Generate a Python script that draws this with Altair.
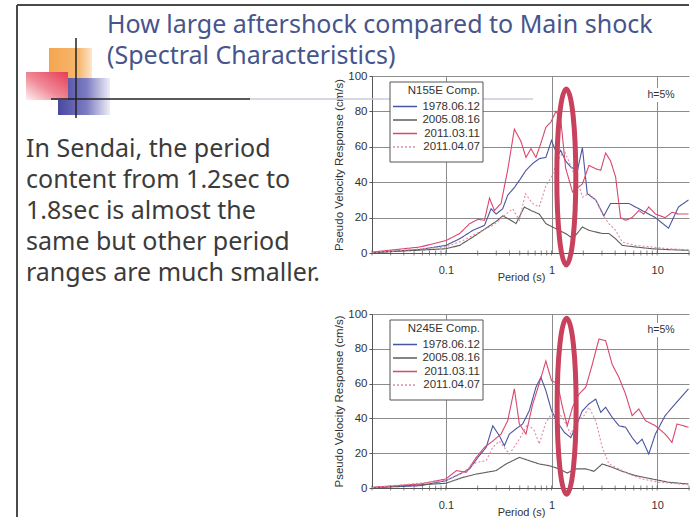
import altair as alt
import pandas as pd

# ---- events and styling -------------------------------------------------
EVENTS = ["1978.06.12", "2005.08.16", "2011.03.11", "2011.04.07"]
COLORS = ["#4a55a0", "#5e5e58", "#d9476c", "#e389a8"]
DASHES = [[1, 0], [1, 0], [1, 0], [2, 2]]

# ---- N155E component: pseudo velocity response (cm/s) vs period (s) ----
N155E_1978_T = [0.02, 0.057, 0.1, 0.135, 0.18, 0.232, 0.268, 0.299, 0.345, 0.385,
                0.445, 0.496, 0.573, 0.662, 0.765, 0.884, 1.0, 1.14, 1.22, 1.36,
                1.52, 1.76, 1.96, 2.18, 2.62, 3.13, 3.62, 4.34, 5.39, 6.70,
                8.32, 9.61, 12.8, 15.9, 19.8]
N155E_1978_V = [0.2, 2.0, 4.3, 8.0, 12.8, 15.6, 25, 22, 25, 32.6,
                37, 41, 46.7, 50.5, 53.3, 54, 63.6, 55, 58, 52,
                48.6, 46.7, 59.5, 33.5, 30, 21, 28, 28, 28, 25,
                22, 20, 14, 26, 30]
N155E_2005_T = [0.02, 0.1, 0.135, 0.18, 0.224, 0.278, 0.31, 0.345, 0.399, 0.461,
                0.553, 0.639, 0.765, 0.884, 1.02, 1.18, 1.36, 1.52, 1.69, 1.96,
                2.26, 2.62, 3.02, 3.49, 4.04, 4.67, 6.23, 8.94, 12.8, 19.8]
N155E_2005_V = [0.2, 2.4, 4.3, 9, 12.8, 16.6, 18.5, 21, 19, 16.6,
                26, 24, 22, 16.6, 14.7, 12.8, 11, 9, 10, 14.7,
                12.8, 11.9, 11, 11, 8, 4.3, 3.4, 2.4, 1.9, 1.5]
N155E_0311_T = [0.02, 0.057, 0.1, 0.135, 0.168, 0.201, 0.232, 0.259, 0.288, 0.333,
                0.385, 0.445, 0.514, 0.573, 0.639, 0.712, 0.793, 0.884, 0.986, 1.10,
                1.22, 1.36, 1.58, 1.96, 2.26, 2.62, 2.92, 3.25, 3.62, 4.04,
                4.50, 5.02, 5.79, 6.70, 7.46, 8.32, 9.61, 11.9, 13.8, 15.9, 19.8]
N155E_0311_V = [0.5, 3.4, 7, 11, 16.6, 19, 18.5, 31, 24, 28,
                47, 70, 63, 54, 59, 54, 62, 71, 74, 80,
                76, 48, 34.5, 39, 49.5, 47.6, 46.7, 56.5, 52, 43,
                20, 18.5, 20, 24, 22, 26, 22, 20, 23, 22, 22]
N155E_0407_T = [0.02, 0.1, 0.145, 0.208, 0.278, 0.321, 0.371, 0.429, 0.496, 0.565,
                0.662, 0.765, 0.884, 1.0, 1.14, 1.32, 1.58, 1.76, 1.96, 2.26,
                2.62, 3.02, 3.49, 4.04, 4.67, 6.23, 8.94, 12.8, 19.8]
N155E_0407_V = [0.2, 3.4, 7, 11.9, 15.6, 18.5, 22, 25, 18.5, 33.5,
                28, 26, 38, 43, 52, 58, 46.7, 41, 31.6, 33.5,
                30, 22, 16.6, 12.8, 6.2, 4.3, 3.4, 2.4, 1.9]

# ---- N245E component ----------------------------------------------------
N245E_1978_T = [0.02, 0.057, 0.1, 0.135, 0.168, 0.201, 0.241, 0.278, 0.321, 0.358,
                0.399, 0.461, 0.533, 0.616, 0.712, 0.793, 0.884, 1.0, 1.14, 1.32,
                1.52, 1.69, 1.96, 2.26, 2.62, 2.92, 3.25, 3.75, 4.34, 5.02,
                5.79, 6.46, 7.20, 8.32, 9.61, 11.9, 14.8, 19.8]
N245E_1978_V = [0.2, 1.3, 4.2, 8, 11, 17.6, 23.4, 35.8, 30, 24.3,
                31, 34, 36.8, 44.4, 57.9, 63.6, 56, 44.4, 37.7, 32,
                29, 34.9, 44.4, 48.3, 51.1, 43.5, 46.4, 40.6, 35.8, 34.9,
                29, 25.3, 28, 19.5, 31, 41.6, 48.3, 57]
N245E_2005_T = [0.02, 0.1, 0.145, 0.194, 0.241, 0.299, 0.371, 0.496, 0.616, 0.765,
                0.951, 1.18, 1.41, 1.69, 2.11, 2.52, 3.02, 3.75, 4.67, 6.23,
                8.94, 12.8, 19.8]
N245E_2005_V = [0.2, 2.7, 6.1, 8, 9, 10, 13.8, 17.6, 15.7, 13.8,
                12.8, 11, 8.6, 11, 11, 9.6, 13.8, 11.9, 9.6, 7.1,
                5.2, 3.3, 2.3]
N245E_0311_T = [0.02, 0.057, 0.1, 0.126, 0.156, 0.194, 0.232, 0.278, 0.333, 0.385,
                0.445, 0.496, 0.573, 0.662, 0.765, 0.884, 1.0, 1.14, 1.27, 1.41,
                1.58, 1.82, 2.11, 2.43, 2.81, 3.25, 3.75, 4.34, 5.02, 5.79,
                6.70, 7.74, 9.61, 11.9, 13.8, 15.4, 19.8]
N245E_0311_V = [0.4, 2.3, 5.2, 10, 9, 17.6, 23.4, 27, 31, 38.7,
                57, 36.8, 31, 48, 60, 73, 61.7, 60, 46.4, 35.8,
                46.4, 54, 57.9, 71, 85.6, 84.7, 71, 63.6, 54, 41.6,
                45.4, 38.7, 35.8, 31, 26.2, 36.8, 34.9]
N245E_0407_T = [0.02, 0.1, 0.145, 0.194, 0.241, 0.278, 0.321, 0.399, 0.496, 0.594,
                0.687, 0.765, 0.884, 1.0, 1.14, 1.32, 1.52, 1.76, 2.03, 2.26,
                2.62, 3.02, 3.49, 4.34, 5.39, 7.20, 10.3, 19.8]
N245E_0407_V = [0.2, 4.2, 9, 14.7, 15.7, 23.4, 27, 19.5, 28, 36.8,
                33, 25.3, 37.7, 42.5, 44.4, 38.7, 31, 38.7, 41.6, 46.4,
                38.7, 23.4, 13.8, 11, 8, 5.2, 3.3, 1.9]

MINOR_TICKS = [0.02, 0.03, 0.04, 0.05, 0.06, 0.07, 0.08, 0.09, 0.1,
               0.2, 0.3, 0.4, 0.5, 0.6, 0.7, 0.8, 0.9, 1,
               2, 3, 4, 5, 6, 7, 8, 9, 10, 20]

TITLE_LINES = ["How large aftershock compared to Main shock",
               "(Spectral  Characteristics)"]
BODY_LINES = ["In Sendai, the period",
              "content from 1.2sec to",
              "1.8sec is almost the",
              "same but other period",
              "ranges are much smaller."]

# highlighted period band (centre period, centre value) per panel
HIGHLIGHT_TOP = (1.38, 43)
HIGHLIGHT_BOT = (1.39, 47)

# ---- layout -------------------------------------------------------------
OX, OY = 372, 76          # top plot origin on the page
W, H_TOP, H_BOT = 317, 177, 174
AX_FONT = "Liberation Sans"
TXT_FONT = "Noto Sans"

ONE = pd.DataFrame({"k": [0]})


def to_frame(series):
    rows = []
    for ev, (ps, vs) in zip(EVENTS, series):
        for p, v in zip(ps, vs, strict=True):
            rows.append({"event": ev, "period": p, "psv": v})
    return pd.DataFrame(rows)


XS = alt.Scale(type="log", domain=[0.02, 20], nice=False)
YS = alt.Scale(domain=[0, 100], nice=False)
CS = alt.Scale(domain=EVENTS, range=COLORS)
DS = alt.Scale(domain=EVENTS, range=DASHES)

X_AXIS = alt.Axis(values=[0.1, 1, 10], grid=True, ticks=False, tickSize=0,
                  labelPadding=11, labelFontSize=11, labelFont=AX_FONT,
                  labelColor="#333", labelExpr="datum.value < 1 ? '0.1' : format(datum.value, 'd')",
                  title="Period (s)", titleFont=AX_FONT, titleFontSize=11,
                  titleFontWeight="normal", titleColor="#333", titleY=24, titleX=149,
                  titleBaseline="middle", domainColor="#555", gridColor="#8c8c8c",
                  gridWidth=1)
Y_AXIS = alt.Axis(values=[0, 20, 40, 60, 80, 100], grid=True, tickSize=3,
                  tickColor="#555", labelPadding=2, labelFontSize=11.5,
                  labelFont=AX_FONT, labelColor="#333",
                  title="Pseudo Velocity Response (cm/s)", titleFont=AX_FONT,
                  titleFontSize=11.5, titleFontWeight="normal", titleColor="#333",
                  titlePadding=3, domainColor="#555", gridColor="#8c8c8c", gridWidth=1)

ELLIPSE = ("M0,-1C0.0597,-1,0.108,-0.5523,0.108,0C0.108,0.5523,0.0597,1,0,1"
           "C-0.0597,1,-0.108,0.5523,-0.108,0C-0.108,-0.5523,-0.0597,-1,0,-1Z")


def rule(x1, y1, x2, y2, color, width):
    return alt.Chart(ONE).mark_rule(color=color, strokeWidth=width).encode(
        x=alt.value(x1 - OX), y=alt.value(y1 - OY),
        x2=alt.value(x2 - OX), y2=alt.value(y2 - OY))


def grad_rect(x1, y1, x2, y2, stops, gx=(0, 1), gy=(0, 0)):
    fill = alt.Gradient(gradient="linear",
                        stops=[alt.GradientStop(color=c, offset=o) for c, o in stops],
                        x1=gx[0], x2=gx[1], y1=gy[0], y2=gy[1])
    return alt.Chart(ONE).mark_rect(fill=fill, strokeWidth=0).encode(
        x=alt.value(x1 - OX), y=alt.value(y1 - OY),
        x2=alt.value(x2 - OX), y2=alt.value(y2 - OY))


def legend_layers(title):
    """Boxed key in the upper-left corner of a panel, drawn with the panel's own
    colour and dash scales."""
    keys = pd.DataFrame({"event": EVENTS, "row": list(range(len(EVENTS)))})
    base = alt.Chart(keys).transform_calculate(ly="30.5 + 13.5 * datum.row")
    box = alt.Chart(ONE).mark_rect(fill="white", stroke="#555", strokeWidth=1).encode(
        x=alt.value(18), x2=alt.value(111), y=alt.value(6), y2=alt.value(86))
    head = alt.Chart(ONE).mark_text(text=title, align="right", baseline="middle",
                                    font=AX_FONT, fontSize=11.5, color="#333").encode(
        x=alt.value(108), y=alt.value(14.5))
    samples = base.mark_rule(strokeWidth=1.3).encode(
        x=alt.value(21), x2=alt.value(45),
        y=alt.Y("ly:Q", scale=None, axis=None),
        color=alt.Color("event:N", scale=CS, legend=None),
        strokeDash=alt.StrokeDash("event:N", scale=DS, legend=None))
    labels = base.mark_text(align="right", baseline="middle", font=AX_FONT,
                            fontSize=11.5, color="#333").encode(
        x=alt.value(108), y=alt.Y("ly:Q", scale=None, axis=None), text="event:N")
    return [box, head, samples, labels]


def panel(series, legend_title, highlight, h_y):
    df = to_frame(series)
    lines = alt.Chart(df).mark_line(strokeWidth=1.1, clip=True).encode(
        x=alt.X("period:Q", scale=XS, axis=X_AXIS),
        y=alt.Y("psv:Q", scale=YS, axis=Y_AXIS),
        color=alt.Color("event:N", scale=CS, legend=None),
        strokeDash=alt.StrokeDash("event:N", scale=DS, legend=None),
    )
    ticks = alt.Chart(pd.DataFrame({"period": MINOR_TICKS})).mark_tick(
        orient="vertical", size=5, thickness=1, color="#555").encode(
        x=alt.X("period:Q", scale=XS, axis=X_AXIS),
        y=alt.Y(datum=0, scale=YS, axis=Y_AXIS))
    mark = alt.Chart(pd.DataFrame({"period": [highlight[0]], "psv": [highlight[1]]})).mark_point(
        shape=ELLIPSE, size=30976, filled=False, strokeWidth=5, color="#c8415d", opacity=1).encode(
        x=alt.X("period:Q", scale=XS, axis=X_AXIS),
        y=alt.Y("psv:Q", scale=YS, axis=Y_AXIS))
    # damping note sits on a white patch so the decade gridline stops below it
    damping_bg = alt.Chart(ONE).mark_rect(fill="white").encode(
        x=alt.value(273), x2=alt.value(305), y=alt.value(h_y - 7), y2=alt.value(h_y + 7))
    damping = alt.Chart(ONE).mark_text(text="h=5%", align="center", baseline="middle",
                                       font=AX_FONT, fontSize=10.5, color="#333").encode(
        x=alt.value(289), y=alt.value(h_y))
    return [lines] + legend_layers(legend_title) + [ticks, damping_bg, damping, mark]


# ---- slide decoration (drawn in the top panel's coordinate frame) -------
decor = [
    rule(17, 5, 689, 5, "#4a4a4a", 2),
    rule(17, 5, 17, 517, "#4a4a4a", 2),
    rule(250, 99, 533, 99, "#c9ccdc", 1.5),
    grad_rect(49, 48, 92, 78, [("#f4a64e", 0), ("#f6b870", 0.7), ("#fde7cc", 1)]),
    grad_rect(58, 78, 110, 115, [("#4848a0", 0), ("#7c7cc2", 0.55), ("#eeeef8", 1)]),
    grad_rect(26, 72, 68, 100, [("#e63c55", 0), ("#f08a98", 0.55), ("#fdf0f2", 1)],
              gx=(1, 0), gy=(0, 1)),
    rule(76, 38, 76, 118, "#222", 1.5),
    rule(51, 99, 250, 99, "#222", 1.5),
    alt.Chart(ONE).mark_text(text=TITLE_LINES, align="left", baseline="alphabetic",
                             font=TXT_FONT, fontSize=25, lineHeight=31,
                             color="#46558c").encode(
        x=alt.value(107 - OX), y=alt.value(33 - OY)),
    alt.Chart(ONE).mark_text(text=BODY_LINES, align="left", baseline="alphabetic",
                             font=TXT_FONT, fontSize=25, lineHeight=31,
                             color="#3b3b3b").encode(
        x=alt.value(26 - OX), y=alt.value(157 - OY)),
]

top_layers = panel([(N155E_1978_T, N155E_1978_V), (N155E_2005_T, N155E_2005_V),
                    (N155E_0311_T, N155E_0311_V), (N155E_0407_T, N155E_0407_V)],
                   "N155E Comp.", HIGHLIGHT_TOP, 19)
bot_layers = panel([(N245E_1978_T, N245E_1978_V), (N245E_2005_T, N245E_2005_V),
                    (N245E_0311_T, N245E_0311_V), (N245E_0407_T, N245E_0407_V)],
                   "N245E Comp.", HIGHLIGHT_BOT, 16)

top = alt.layer(*(decor + top_layers)).properties(width=W, height=H_TOP)
bottom = alt.layer(*bot_layers).properties(width=W, height=H_BOT)

chart = alt.vconcat(top, bottom, spacing=61, bounds="flush").properties(
    padding={"left": 16, "top": 4, "right": 0, "bottom": 0},
    background="white",
).configure_view(stroke=None)

chart.save("out.html", embed_options={"renderer": "svg", "actions": False})
